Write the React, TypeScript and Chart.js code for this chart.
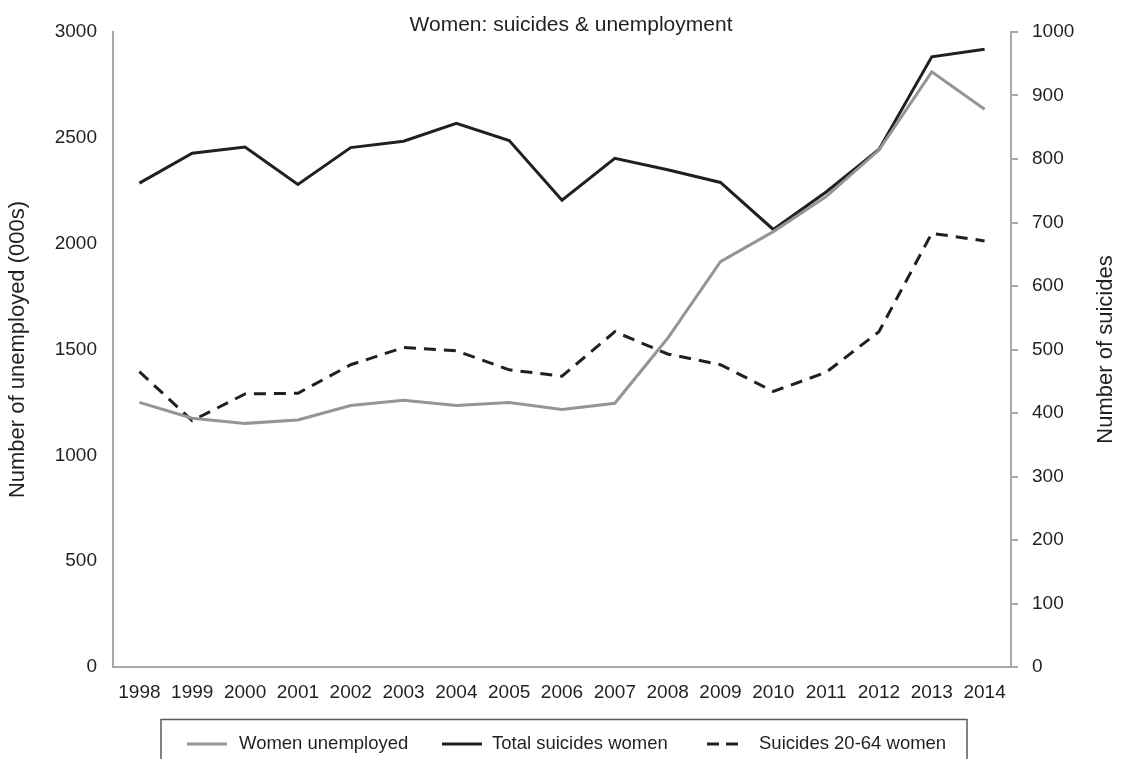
import React, { useEffect, useRef } from "react";
import { Chart, registerables } from "chart.js";

Chart.register(...registerables);

const years = ["1998", "1999", "2000", "2001", "2002", "2003", "2004", "2005", "2006", "2007", "2008", "2009", "2010", "2011", "2012", "2013", "2014"];
const womenUnemployed = [1250, 1175, 1151, 1167, 1235, 1260, 1236, 1250, 1217, 1246, 1553, 1915, 2057, 2222, 2442, 2812, 2635];
const totalSuicidesWomen = [762, 809, 819, 760, 818, 828, 856, 829, 735, 801, 783, 763, 689, 748, 815, 961, 973];
const suicides2064Women = [465, 388, 430, 431, 476, 503, 498, 468, 458, 528, 493, 476, 434, 464, 528, 683, 671];

const seriesLabels = ["Women unemployed", "Total suicides women", "Suicides 20-64 women"];
const titleText = "Women: suicides & unemployment";
const leftAxisTitle = "Number of unemployed (000s)";
const rightAxisTitle = "Number of suicides";

const FONT = "'Liberation Sans', Arial, Helvetica, sans-serif";
const TEXT = "#231f20";
const AXIS = "#a7a9ac";
const GRAY_LINE = "#939598";
const BLACK_LINE = "#231f20";

const decorPlugin = {
  id: "decor",
  afterDraw(chart: any) {
    const ctx = chart.ctx;
    ctx.save();
    // title
    ctx.fillStyle = TEXT;
    ctx.font = `21px ${FONT}`;
    ctx.textAlign = "center";
    ctx.textBaseline = "alphabetic";
    ctx.fillText(titleText, 571, 31);
    // right axis title (reads bottom to top)
    ctx.save();
    ctx.translate(1106, (chart.chartArea.top + chart.chartArea.bottom) / 2);
    ctx.rotate(-Math.PI / 2);
    ctx.font = `22px ${FONT}`;
    ctx.textBaseline = "middle";
    ctx.fillText(rightAxisTitle, 0, 0);
    ctx.restore();
    // legend box
    ctx.strokeStyle = "#58595b";
    ctx.lineWidth = 1.5;
    ctx.strokeRect(161, 719.5, 806, 60);
    const items = [
      { lx: 187, tx: 239 },
      { lx: 442, tx: 492 },
      { lx: 707, tx: 759 },
    ];
    const ly = 744;
    chart.data.datasets.forEach((ds: any, i: number) => {
      const it = items[i];
      const dashed = ds.borderDash && ds.borderDash.length;
      ctx.save();
      ctx.strokeStyle = ds.borderColor;
      ctx.lineWidth = ds.borderWidth;
      ctx.setLineDash(dashed ? [12, 7] : []);
      ctx.beginPath();
      ctx.moveTo(it.lx, ly);
      ctx.lineTo(it.lx + (dashed ? 31 : 40), ly);
      ctx.stroke();
      ctx.restore();
      ctx.fillStyle = TEXT;
      ctx.font = `18.5px ${FONT}`;
      ctx.textAlign = "left";
      ctx.textBaseline = "middle";
      ctx.fillText(ds.label, it.tx, ly);
    });
    ctx.restore();
  },
};

const plainTick = (v: any) => String(v);

export default function App() {
  const ref = useRef<HTMLCanvasElement | null>(null);
  useEffect(() => {
    document.body.style.margin = "0";
    const canvas = ref.current;
    if (!canvas) return;
    const chart = new Chart(canvas, {
      type: "line",
      data: {
        labels: years,
        datasets: [
          {
            label: seriesLabels[0],
            data: womenUnemployed,
            yAxisID: "y",
            borderColor: GRAY_LINE,
            borderWidth: 3,
            pointRadius: 0,
            tension: 0,
            fill: false,
          },
          {
            label: seriesLabels[1],
            data: totalSuicidesWomen,
            yAxisID: "y1",
            borderColor: BLACK_LINE,
            borderWidth: 3,
            pointRadius: 0,
            tension: 0,
            fill: false,
          },
          {
            label: seriesLabels[2],
            data: suicides2064Women,
            yAxisID: "y1",
            borderColor: BLACK_LINE,
            borderWidth: 3,
            borderDash: [12, 8],
            pointRadius: 0,
            tension: 0,
            fill: false,
          },
        ],
      },
      options: {
        responsive: false,
        animation: false,
        devicePixelRatio: 1,
        layout: { padding: { top: 32, left: 0, right: 0, bottom: 0 } },
        plugins: {
          legend: { display: false },
          title: { display: false },
          tooltip: { enabled: false },
        },
        scales: {
          x: {
            type: "category",
            offset: true,
            grid: { display: false, drawTicks: false },
            border: { display: true, color: AXIS, width: 2 },
            ticks: { color: TEXT, font: { family: FONT, size: 19 }, padding: 14, maxRotation: 0, autoSkip: false },
            afterFit: (s: any) => { s.height = 92; },
          },
          y: {
            position: "left",
            min: 0,
            max: 3000,
            grid: { display: false, drawTicks: false },
            border: { display: true, color: AXIS, width: 2 },
            ticks: { stepSize: 500, color: TEXT, font: { family: FONT, size: 19 }, padding: 16, callback: plainTick },
            title: { display: true, text: leftAxisTitle, color: TEXT, font: { family: FONT, size: 22 }, padding: { top: 5, bottom: 0 } },
            afterFit: (s: any) => { s.width = 113; },
          },
          y1: {
            position: "right",
            min: 0,
            max: 1000,
            grid: { display: true, drawOnChartArea: false, drawTicks: true, tickLength: 7, color: AXIS, lineWidth: 2 },
            border: { display: true, color: AXIS, width: 2 },
            ticks: { stepSize: 100, color: TEXT, font: { family: FONT, size: 19 }, padding: 14, callback: plainTick },
            afterFit: (s: any) => { s.width = 110; },
          },
        },
      },
      plugins: [decorPlugin],
    });
    return () => chart.destroy();
  }, []);
  return (
    <div style={{ width: 1121, height: 759, background: "#fff" }}>
      <canvas ref={ref} width={1121} height={759} />
    </div>
  );
}
